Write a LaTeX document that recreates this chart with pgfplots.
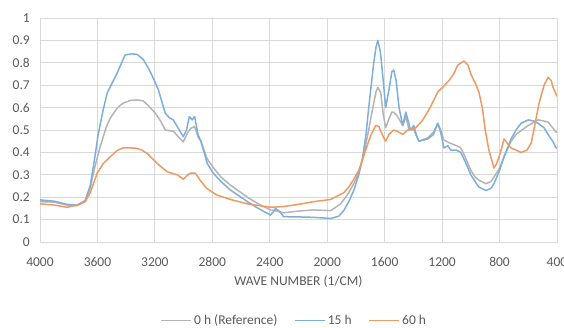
\documentclass[border=0pt]{standalone}
\usepackage{pgfplots}
\pgfplotsset{compat=1.18}
\usepackage{fontspec}
\setmainfont{Carlito}
\definecolor{txt}{HTML}{595959}
\definecolor{grd}{HTML}{D9D9D9}
\definecolor{cgray}{HTML}{B4B4B4}
\definecolor{cblue}{HTML}{7EAEDC}
\definecolor{corange}{HTML}{F09A62}
\newcommand\f{\fontsize{13.5}{16}\selectfont}
\begin{document}
\begin{tikzpicture}
\path[use as bounding box] (0,0) rectangle (564pt,328pt);
\begin{axis}[
  at={(40pt,86pt)}, anchor=south west,
  scale only axis, width=517pt, height=224pt,
  x dir=reverse, xmin=400, xmax=4000, ymin=0, ymax=1,
  xtick={400,800,1200,1600,2000,2400,2800,3200,3600,4000},
  ytick={0,0.1,0.2,0.3,0.4,0.5,0.6,0.7,0.8,0.9,1},
  yticklabels={0,0.1,0.2,0.3,0.4,0.5,0.6,0.7,0.8,0.9,1},
  /pgf/number format/assume math mode=true,
  /pgf/number format/set thousands separator={},
  major tick length=0pt,
  grid=major, major grid style={grd, line width=0.8pt},
  axis line style={grd, line width=0.8pt},
  ticklabel style={font=\f, text=txt, inner sep=0pt},
  yticklabel style={anchor=east, xshift=-10pt},
  xticklabel style={anchor=center, yshift=-20pt},
  xlabel={WAVE NUMBER (1/CM)},
  xlabel style={font=\f, text=txt, at={(axis description cs:0.5,0)}, anchor=center, yshift=-40pt},
  legend columns=3,
  legend style={at={(0.492,-0.35)}, anchor=center, draw=none, fill=none, font=\f, text=txt,
    nodes={inner xsep=2pt, inner ysep=2pt},
    /tikz/every even column/.append style={column sep=15pt}},
  legend image code/.code={\draw[#1, line width=1.5pt] (0pt,0pt) -- (30pt,0pt);},
  every axis plot/.append style={line width=1.5pt, line join=round},
]
\addplot[cgray] coordinates {
(4000,0.18)(3900,0.178)(3812,0.165)(3742,0.162)(3686,0.18)(3650,0.24)(3620,0.33)(3581,0.425)
(3540,0.51)(3511,0.553)(3460,0.6)(3421,0.62)(3370,0.632)(3323,0.634)(3281,0.63)(3240,0.605)
(3197,0.575)(3160,0.54)(3128,0.5)(3100,0.497)(3072,0.495)(3030,0.465)(3002,0.447)(2970,0.49)
(2949,0.508)(2923,0.515)(2900,0.47)(2880,0.45)(2835,0.37)(2790,0.33)(2740,0.29)(2674,0.254)
(2600,0.22)(2556,0.2)(2480,0.17)(2395,0.143)(2360,0.14)(2304,0.13)(2200,0.138)(2095,0.143)
(1976,0.14)(1907,0.17)(1860,0.21)(1815,0.26)(1780,0.31)(1753,0.37)(1711,0.5)(1697,0.55)
(1676,0.62)(1660,0.67)(1648,0.69)(1628,0.67)(1610,0.57)(1593,0.51)(1570,0.55)(1550,0.58)
(1537,0.58)(1510,0.56)(1474,0.52)(1453,0.56)(1430,0.5)(1397,0.5)(1362,0.45)(1300,0.465)
(1260,0.49)(1230,0.53)(1210,0.5)(1188,0.455)(1140,0.44)(1100,0.43)(1070,0.42)(1040,0.38)
(1000,0.32)(970,0.29)(944,0.276)(895,0.26)(860,0.27)(839,0.29)(800,0.33)(769,0.38)
(720,0.45)(685,0.48)(601,0.52)(532,0.545)(490,0.54)(462,0.535)(430,0.51)(406,0.49)(400,0.49)
};
\addlegendentry{0 h (Reference)}
\addplot[cblue] coordinates {
(4000,0.188)(3900,0.182)(3812,0.168)(3742,0.165)(3686,0.185)(3651,0.25)(3620,0.37)(3595,0.48)
(3560,0.59)(3532,0.665)(3463,0.754)(3407,0.835)(3360,0.84)(3323,0.837)(3281,0.815)(3240,0.77)
(3211,0.731)(3176,0.68)(3128,0.575)(3100,0.555)(3072,0.545)(3030,0.5)(3002,0.47)(2980,0.5)
(2960,0.56)(2940,0.545)(2923,0.56)(2900,0.48)(2880,0.45)(2835,0.35)(2793,0.307)(2740,0.27)
(2674,0.232)(2600,0.2)(2556,0.18)(2480,0.15)(2395,0.12)(2375,0.135)(2360,0.15)(2330,0.135)
(2304,0.113)(2200,0.112)(2095,0.11)(1976,0.105)(1920,0.115)(1885,0.14)(1850,0.18)(1815,0.23)
(1780,0.3)(1753,0.38)(1730,0.48)(1711,0.6)(1690,0.72)(1676,0.8)(1660,0.87)(1648,0.9)
(1630,0.85)(1610,0.72)(1593,0.6)(1570,0.68)(1550,0.76)(1537,0.768)(1520,0.72)(1500,0.6)
(1474,0.52)(1453,0.58)(1440,0.55)(1420,0.5)(1397,0.52)(1380,0.48)(1362,0.45)(1330,0.455)
(1300,0.46)(1260,0.48)(1230,0.53)(1210,0.49)(1188,0.42)(1160,0.43)(1140,0.41)(1100,0.41)
(1070,0.4)(1040,0.36)(1000,0.3)(970,0.27)(944,0.245)(895,0.23)(860,0.24)(839,0.26)
(800,0.32)(769,0.38)(720,0.46)(685,0.5)(650,0.53)(601,0.545)(560,0.54)(532,0.53)
(490,0.51)(462,0.48)(430,0.45)(406,0.42)(400,0.42)
};
\addlegendentry{15 h}
\addplot[corange] coordinates {
(4000,0.17)(3900,0.165)(3812,0.155)(3742,0.165)(3686,0.18)(3650,0.22)(3602,0.307)(3560,0.35)
(3511,0.38)(3460,0.41)(3421,0.42)(3370,0.42)(3323,0.418)(3290,0.41)(3253,0.395)(3183,0.35)
(3114,0.313)(3044,0.3)(3002,0.28)(2970,0.3)(2953,0.307)(2918,0.307)(2884,0.275)(2840,0.24)
(2770,0.21)(2674,0.19)(2556,0.17)(2395,0.155)(2304,0.158)(2200,0.168)(2095,0.18)(1976,0.19)
(1930,0.205)(1885,0.22)(1850,0.245)(1815,0.28)(1780,0.32)(1753,0.37)(1711,0.45)(1697,0.475)
(1662,0.52)(1640,0.515)(1610,0.47)(1593,0.45)(1570,0.48)(1537,0.5)(1500,0.49)(1474,0.48)
(1440,0.5)(1383,0.51)(1340,0.54)(1300,0.58)(1260,0.63)(1230,0.67)(1190,0.695)(1153,0.72)
(1120,0.75)(1090,0.79)(1048,0.808)(1020,0.79)(1000,0.75)(970,0.71)(944,0.67)(920,0.6)
(900,0.5)(874,0.41)(839,0.33)(820,0.35)(804,0.38)(785,0.42)(769,0.46)(745,0.44)
(720,0.42)(650,0.4)(610,0.41)(580,0.44)(555,0.52)(525,0.62)(490,0.7)(462,0.735)
(440,0.72)(427,0.69)(400,0.65)
};
\addlegendentry{60 h}
\end{axis}
\end{tikzpicture}
\end{document}
